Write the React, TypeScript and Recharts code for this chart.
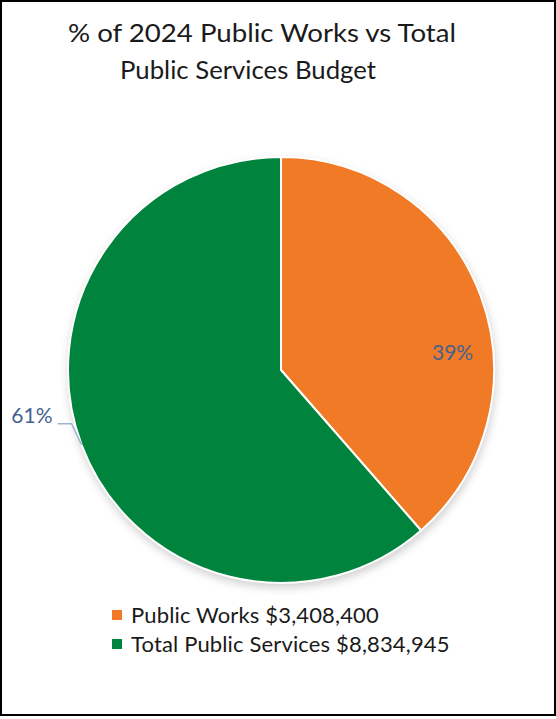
import { PieChart, Pie, Cell } from "recharts";

// slice values: Public Works vs the rest of the Public Services budget
const SLICE_NAMES = ["Public Works", "Total Public Services"];
const SLICE_VALUES = [3408400, 5426545];
const LEGEND_AMOUNTS = ["$3,408,400", "$8,834,945"];
const SLICE_COLORS = ["#F07A26", "#00843D"];

const TITLE_LINES = ["% of 2024 Public Works vs Total", "Public Services Budget"];

const FONT = "Lato, 'Open Sans', sans-serif";
const LABEL_COLOR = "#46628E";
const RAD = Math.PI / 180;

const data = SLICE_NAMES.map((name, i) => ({
  name,
  value: SLICE_VALUES[i],
  amount: LEGEND_AMOUNTS[i],
}));

function renderLabel(props: any) {
  const { cx, cy, outerRadius, midAngle, percent, index } = props;
  const text = `${Math.round(percent * 100)}%`;
  if (index === 0) {
    // best-fit inside label, pushed toward the right rim
    const a = 6 * RAD;
    const r = outerRadius * 0.81;
    return (
      <text x={cx + r * Math.cos(a)} y={cy - r * Math.sin(a)} fill={LABEL_COLOR}
        fontSize={21} fontFamily={FONT} textAnchor="middle" dominantBaseline="central">
        {text}
      </text>
    );
  }
  const ex = cx + outerRadius * Math.cos(-midAngle * RAD);
  const ey = cy + outerRadius * Math.sin(-midAngle * RAD);
  const kx = ex - 10;
  const ky = ey - 21;
  const lx = kx - 14;
  return (
    <g>
      <polyline points={`${ex},${ey} ${kx},${ky} ${lx},${ky}`} fill="none" stroke="#9DB3D6" strokeWidth={1.5} />
      <text x={lx - 5} y={ky - 1} fill={LABEL_COLOR} fontSize={21} fontFamily={FONT} textAnchor="end">
        {text}
      </text>
    </g>
  );
}

function ChartLegend() {
  return (
    <div style={{ position: "absolute", left: 112, top: 600, fontFamily: FONT }}>
      {data.map((d, i) => (
        <div key={d.name} style={{ display: "flex", alignItems: "center", height: 29 }}>
          <span style={{ width: 10, height: 10, background: SLICE_COLORS[i], marginRight: 9, display: "inline-block" }} />
          <span style={{ fontSize: 22, letterSpacing: 0.15, color: "#1a1a1a", whiteSpace: "nowrap" }}>
            {d.name} {d.amount}
          </span>
        </div>
      ))}
    </div>
  );
}

export default function App() {
  return (
    <div style={{ position: "absolute", left: 0, top: 0, width: 556, height: 719, background: "#fff" }}>
      <div style={{
        position: "absolute", left: 0, top: 0, width: 556, height: 716,
        border: "2px solid #000", boxSizing: "border-box",
      }} />
      <svg width={556} height={100} style={{ position: "absolute", left: 0, top: 0 }}>
        <text x={68} y={42} fontFamily={FONT} fontSize={25} fill="#1a1a1a"
          textLength={388} lengthAdjust="spacingAndGlyphs">
          {TITLE_LINES[0]}
        </text>
        <text x={120} y={79} fontFamily={FONT} fontSize={25} fill="#1a1a1a"
          textLength={256} lengthAdjust="spacingAndGlyphs">
          {TITLE_LINES[1]}
        </text>
      </svg>
      <div style={{ position: "absolute", left: 0, top: 0 }}>
        <PieChart width={556} height={716} margin={{ top: 0, right: 0, bottom: 0, left: 0 }}>
          {/* soft drop shadow under the pie */}
          <Pie data={data} dataKey="value" cx={282} cy={374} outerRadius={214}
            startAngle={90} endAngle={-270} stroke="none" isAnimationActive={false}
            legendType="none" label={false} labelLine={false}>
            {data.map((_, i) => (
              <Cell key={i} fill="#000" fillOpacity={0.18} style={{ filter: "blur(4px)" }} />
            ))}
          </Pie>
          <Pie data={data} dataKey="value" nameKey="name" cx={281} cy={370} outerRadius={213}
            startAngle={90} endAngle={-270} stroke="#fff" strokeWidth={2}
            isAnimationActive={false} label={renderLabel} labelLine={false}>
            {data.map((_, i) => (
              <Cell key={i} fill={SLICE_COLORS[i]} />
            ))}
          </Pie>
        </PieChart>
      </div>
      <ChartLegend />
    </div>
  );
}
